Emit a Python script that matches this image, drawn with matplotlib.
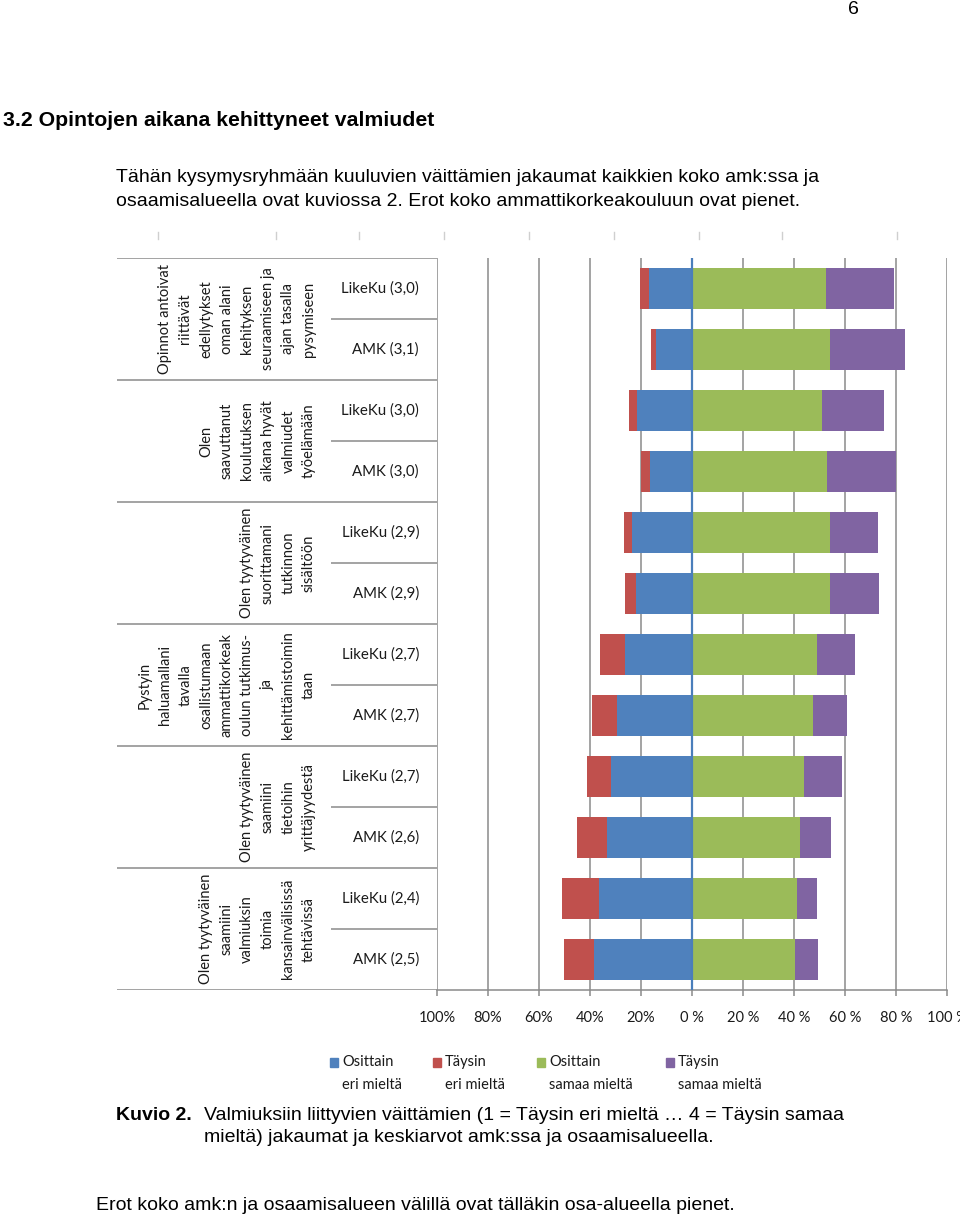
import matplotlib.pyplot as plt
from matplotlib.lines import Line2D
from matplotlib.patches import Rectangle
import numpy as np

# data (percent)
rows = ["LikeKu (3,0)", "AMK (3,1)", "LikeKu (3,0)", "AMK (3,0)", "LikeKu (2,9)", "AMK (2,9)",
        "LikeKu (2,7)", "AMK (2,7)", "LikeKu (2,7)", "AMK (2,6)", "LikeKu (2,4)", "AMK (2,5)"]
groups = [
    "Opinnot antoivat\nriittävät\nedellytykset\noman alani\nkehityksen\nseuraamiseen ja\najan tasalla\npysymiseen",
    "Olen\nsaavuttanut\nkoulutuksen\naikana hyvät\nvalmiudet\ntyöelämään",
    "Olen tyytyväinen\nsuorittamani\ntutkinnon\nsisältöön",
    "Pystyin\nhaluamallani\ntavalla\nosallistumaan\nammattikorkeak\noulun tutkimus-\nja\nkehittämistoimin\ntaan",
    "Olen tyytyväinen\nsaamiini\ntietoihin\nyrittäjyydestä",
    "Olen tyytyväinen\nsaamiini\nvalmiuksin\ntoimia\nkansainvälisissä\ntehtävissä",
]
osittain_eri = np.array([16.9, 14.0, 21.6, 16.4, 23.7, 22.1, 26.4, 29.6, 31.9, 33.4, 36.4, 38.6])
taysin_eri = np.array([3.6, 2.0, 3.1, 3.6, 3.1, 4.2, 9.6, 9.5, 9.3, 11.8, 14.4, 11.7])
osittain_samaa = np.array([52.6, 54.2, 51.1, 53.1, 54.2, 54.2, 49.0, 47.6, 44.0, 42.3, 41.3, 40.3])
taysin_samaa = np.array([26.7, 29.2, 24.0, 26.8, 18.8, 19.3, 14.9, 13.1, 14.7, 12.4, 7.6, 9.3])

series_names = ["Osittain\neri mieltä", "Täysin\neri mieltä", "Osittain\nsamaa mieltä", "Täysin\nsamaa mieltä"]
colors = ["#4F81BD", "#C0504D", "#9BBB59", "#8064A2"]

xticks = [-100, -80, -60, -40, -20, 0, 20, 40, 60, 80, 100]
xticklabels = ["100%", "80%", "60%", "40%", "20%", "0 %", "20 %", "40 %", "60 %", "80 %", "100 %"]

W, H = 960, 1216
grid_c = "#8a8a8a"
txt_c = "#1a1a1a"
chart_font = "Lato"
doc_font = "Liberation Sans"


def fx(px):
    return px / W


def fy(py):
    return 1 - py / H


fig = plt.figure(figsize=(W / 100, H / 100), dpi=100)

# main bar axes
x0, x1, y0, y1 = 437, 947, 258, 990
ax = fig.add_axes([fx(x0), fy(y1), fx(x1 - x0), (y1 - y0) / H])
y = np.arange(len(rows))
bh = 0.66
ax.barh(y, -osittain_eri, height=bh, color=colors[0], zorder=2)
ax.barh(y, -taysin_eri, left=-osittain_eri, height=bh, color=colors[1], zorder=2)
ax.barh(y, osittain_samaa, height=bh, color=colors[2], zorder=2)
ax.barh(y, taysin_samaa, left=osittain_samaa, height=bh, color=colors[3], zorder=2)
ax.axvline(0, color="#4A7EBB", lw=1.6, zorder=3)

ax.set_xlim(-100, 100)
ax.set_ylim(len(rows) - 0.5, -0.5)
ax.set_yticks([])
ax.set_xticks(xticks)
ax.set_xticklabels(xticklabels, fontsize=10.5, family=chart_font, color=txt_c)
ax.tick_params(axis="x", direction="out", length=4, width=1.1, color=grid_c, pad=11)
ax.grid(axis="x", color=grid_c, lw=1.1, zorder=1)
for s in ["top", "left", "right"]:
    ax.spines[s].set_visible(False)
ax.spines["bottom"].set_color(grid_c)
ax.spines["bottom"].set_linewidth(1.1)
ax.set_facecolor("none")

# category label table on the left
lx0 = 117
lab = fig.add_axes([fx(lx0), fy(y1), fx(x0 - lx0), (y1 - y0) / H])
lab.set_xlim(0, x0 - lx0)
lab.set_ylim(len(rows) - 0.5, -0.5)
lab.axis("off")
sub_x = 331 - lx0
for b in np.arange(-0.5, len(rows), 1.0):
    if int(b + 0.5) % 2 == 0:
        lab.hlines(b, 0, x0 - lx0, color=grid_c, lw=1.1)
    else:
        lab.hlines(b, sub_x, x0 - lx0, color=grid_c, lw=1.1)
for i, name in enumerate(rows):
    lab.text(419 - lx0, i, name, ha="right", va="center", fontsize=10.8,
             family=chart_font, color=txt_c)
for g, text in enumerate(groups):
    lab.text(316 - lx0, 2 * g + 0.5, text, rotation=90, ha="right", va="center",
             multialignment="center", fontsize=10.5, family=chart_font,
             color=txt_c, linespacing=1.6)

# legend
leg_x = [330, 433, 537, 666]
for xs, name, c in zip(leg_x, series_names, colors):
    fig.add_artist(Rectangle((fx(xs), fy(1067)), fx(8), 9 / H, color=c, transform=fig.transFigure))
    fig.text(fx(xs + 12), fy(1055), name, ha="left", va="top", fontsize=10.5,
             family=chart_font, color=txt_c, linespacing=1.8)

# faint marks above the chart
for xm in [158, 276, 359, 444, 529, 614, 699, 782, 897]:
    fig.add_artist(Line2D([fx(xm), fx(xm)], [fy(232), fy(239)], color="#cfcfcf", lw=1,
                          transform=fig.transFigure))

# page text
fig.text(fx(853), fy(10), "6", ha="center", va="center", fontsize=14, family=doc_font)
fig.text(fx(3), fy(120), "3.2 Opintojen aikana kehittyneet valmiudet", ha="left", va="center",
         fontsize=15.3, weight="bold", family=doc_font)
fig.text(fx(116), fy(178), "Tähän kysymysryhmään kuuluvien väittämien jakaumat kaikkien koko amk:ssa ja",
         ha="left", va="center", fontsize=14, family=doc_font)
fig.text(fx(116), fy(201), "osaamisalueella ovat kuviossa 2. Erot koko ammattikorkeakouluun ovat pienet.",
         ha="left", va="center", fontsize=14, family=doc_font)
fig.text(fx(116), fy(1115), "Kuvio 2.", ha="left", va="center", fontsize=14, weight="bold",
         family=doc_font)
fig.text(fx(204), fy(1115), "Valmiuksiin liittyvien väittämien (1 = Täysin eri mieltä … 4 = Täysin samaa",
         ha="left", va="center", fontsize=14, family=doc_font)
fig.text(fx(204), fy(1138), "mieltä) jakaumat ja keskiarvot amk:ssa ja osaamisalueella.",
         ha="left", va="center", fontsize=14, family=doc_font)
fig.text(fx(96), fy(1205), "Erot koko amk:n ja osaamisalueen välillä ovat tälläkin osa-alueella pienet.",
         ha="left", va="center", fontsize=14, family=doc_font)

fig.savefig("out.png", dpi=100)
